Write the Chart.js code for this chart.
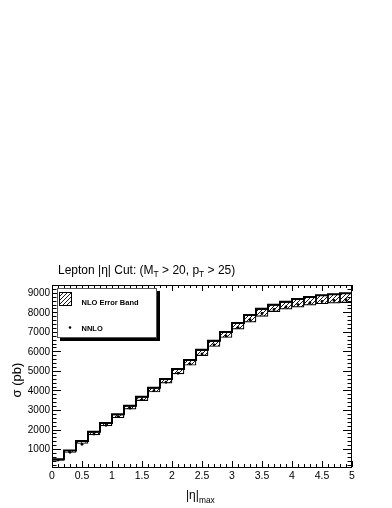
<!DOCTYPE html>
<html>
<head>
<meta charset="utf-8">
<script src="https://cdn.jsdelivr.net/npm/chart.js"></script>
<style>
  html, body { margin: 0; padding: 0; background: #fff; }
</style>
</head>
<body>
<canvas id="c" width="392" height="508"></canvas>
<script>
// |eta|max bins (edges), NLO band low/high, NNLO central values (pb)
const binEdges = [0, 0.2, 0.4, 0.6, 0.8, 1.0, 1.2, 1.4, 1.6, 1.8, 2.0, 2.2, 2.4, 2.6,
                  2.8, 3.0, 3.2, 3.4, 3.6, 3.8, 4.0, 4.2, 4.4, 4.6, 4.8, 5.0];
const nloLow  = [420, 830, 1290, 1720, 2180, 2600, 3040, 3480, 3920, 4370, 4850, 5290, 5780,
                 6250, 6710, 7140, 7500, 7790, 8040, 8160, 8270, 8370, 8440, 8470, 8500];
const nloHigh = [480, 930, 1410, 1890, 2330, 2780, 3220, 3680, 4140, 4590, 5100, 5560, 6080,
                 6540, 6990, 7450, 7870, 8180, 8390, 8540, 8680, 8780, 8880, 8930, 8980];
const nnlo    = [436, 830, 1240, 1770, 2215, 2660, 3090, 3530, 3990, 4420, 4880, 5360, 5870,
                 6330, 6790, 7220, 7620, 7940, 8150, 8280, 8400, 8490, 8560, 8610, 8650];
const xTickLabels = [0, 0.5, 1, 1.5, 2, 2.5, 3, 3.5, 4, 4.5, 5];
const yTickLabels = [1000, 2000, 3000, 4000, 5000, 6000, 7000, 8000, 9000];

const FONT = '"Liberation Sans", Arial, Helvetica, sans-serif';
const centers = binEdges.slice(0, -1).map((e, i) => (e + binEdges[i + 1]) / 2);

function hatchPattern() {
  const s = 4;
  const p = document.createElement('canvas');
  p.width = s; p.height = s;
  const g = p.getContext('2d');
  g.fillStyle = '#fff';
  g.fillRect(0, 0, s, s);
  g.strokeStyle = '#000';
  g.lineWidth = 0.9;
  g.beginPath();
  g.moveTo(0, s); g.lineTo(s, 0);
  g.moveTo(-1, 1); g.lineTo(1, -1);
  g.moveTo(s - 1, s + 1); g.lineTo(s + 1, s - 1);
  g.stroke();
  return g.createPattern(p, 'repeat');
}
const hatch = hatchPattern();

// text with subscripts
function richText(ctx, parts, x, y, size) {
  let cx = x;
  parts.forEach(p => {
    const fs = p.sub ? size * 0.7 : size;
    ctx.font = fs + 'px ' + FONT;
    ctx.fillText(p.t, cx, y + (p.sub ? size * 0.3 : 0));
    cx += ctx.measureText(p.t).width;
  });
  return cx - x;
}

const rootFrame = {
  id: 'rootFrame',
  afterDraw(chart) {
    const { ctx, chartArea: a, scales: { x, y } } = chart;
    ctx.save();
    ctx.strokeStyle = '#000';
    ctx.fillStyle = '#000';
    ctx.lineWidth = 1;
    ctx.strokeRect(a.left + 0.5, a.top + 0.5, a.right - a.left - 1, a.bottom - a.top);

    // x ticks (inside, bottom and top)
    ctx.beginPath();
    for (let k = 0; k <= 50; k++) {
      const px = Math.round(x.getPixelForValue(k * 0.1)) + 0.5;
      const len = k % 5 === 0 ? 6 : 3;
      ctx.moveTo(px, a.bottom); ctx.lineTo(px, a.bottom - len);
      ctx.moveTo(px, a.top); ctx.lineTo(px, a.top + len);
    }
    // y ticks (inside, left and right)
    for (let v = 200; v <= y.max; v += 200) {
      const py = Math.round(y.getPixelForValue(v)) + 0.5;
      const len = v % 1000 === 0 ? 9 : 4.5;
      ctx.moveTo(a.left, py); ctx.lineTo(a.left + len, py);
      ctx.moveTo(a.right, py); ctx.lineTo(a.right - len, py);
    }
    ctx.stroke();

    // tick labels
    ctx.font = '10px ' + FONT;
    ctx.textAlign = 'right';
    ctx.textBaseline = 'middle';
    yTickLabels.forEach(v => ctx.fillText(String(v), a.left - 2, y.getPixelForValue(v) + 0.5));
    ctx.font = '10.5px ' + FONT;
    ctx.textAlign = 'center';
    ctx.textBaseline = 'alphabetic';
    xTickLabels.forEach(v => ctx.fillText(String(v), x.getPixelForValue(v), a.bottom + 12));

    // title
    ctx.textAlign = 'left';
    richText(ctx, [{ t: 'Lepton |η| Cut: (M' }, { t: 'T', sub: true }, { t: ' > 20, p' },
                   { t: 'T', sub: true }, { t: ' > 25)' }], 58, 273.5, 12);

    // x axis title
    richText(ctx, [{ t: '|η|' }, { t: 'max', sub: true }], 186, 499, 12);

    // y axis title
    ctx.save();
    ctx.translate(21, 380);
    ctx.rotate(-Math.PI / 2);
    ctx.font = '13px ' + FONT;
    ctx.textAlign = 'center';
    ctx.fillText('σ (pb)', 0, 0);
    ctx.restore();

    // legend
    ctx.fillStyle = '#000';
    ctx.fillRect(60, 291, 100, 50);
    ctx.fillStyle = '#fff';
    ctx.fillRect(57, 288, 100, 50);
    ctx.strokeStyle = '#555';
    ctx.strokeRect(57.5, 288.5, 99, 49);
    ctx.fillStyle = hatch;
    ctx.fillRect(59.5, 292.5, 12, 13);
    ctx.strokeStyle = '#000';
    ctx.strokeRect(59.5, 292.5, 12, 13);
    ctx.fillStyle = '#000';
    ctx.beginPath();
    ctx.arc(70, 327.5, 1.3, 0, Math.PI * 2);
    ctx.fill();
    ctx.font = 'bold 7.5px ' + FONT;
    ctx.fillText('NLO Error Band', 81.5, 304.5);
    ctx.fillText('NNLO', 81.5, 330.5);
    ctx.restore();
  }
};

new Chart(document.getElementById('c'), {
  type: 'bar',
  data: {
    datasets: [
      {
        type: 'scatter',
        label: 'NNLO',
        data: centers.map((c, i) => ({ x: c, y: nnlo[i] })),
        pointRadius: 1.4,
        pointBorderWidth: 0,
        backgroundColor: '#000',
        borderColor: '#000'
      },
      {
        type: 'line',
        label: 'NLO outline',
        data: binEdges.map((e, i) => ({ x: e, y: nloHigh[Math.min(i, nloHigh.length - 1)] })),
        stepped: true,
        borderColor: '#000',
        borderWidth: 2,
        pointRadius: 0,
        fill: false
      },
      {
        type: 'bar',
        label: 'NLO Error Band',
        data: centers.map((c, i) => ({ x: c, y: [nloLow[i], nloHigh[i]] })),
        backgroundColor: hatch,
        borderColor: '#000',
        borderWidth: 1.2,
        borderSkipped: false,
        barPercentage: 1,
        categoryPercentage: 1,
        grouped: false
      }
    ]
  },
  options: {
    responsive: false,
    animation: false,
    devicePixelRatio: 1,
    layout: { padding: { left: 52, right: 40, top: 285, bottom: 41 } },
    scales: {
      x: { type: 'linear', min: 0, max: 5, offset: false, display: false },
      y: { type: 'linear', min: 80, max: 9400, display: false }
    },
    plugins: { legend: { display: false }, tooltip: { enabled: false } }
  },
  plugins: [rootFrame]
});
</script>
</body>
</html>
